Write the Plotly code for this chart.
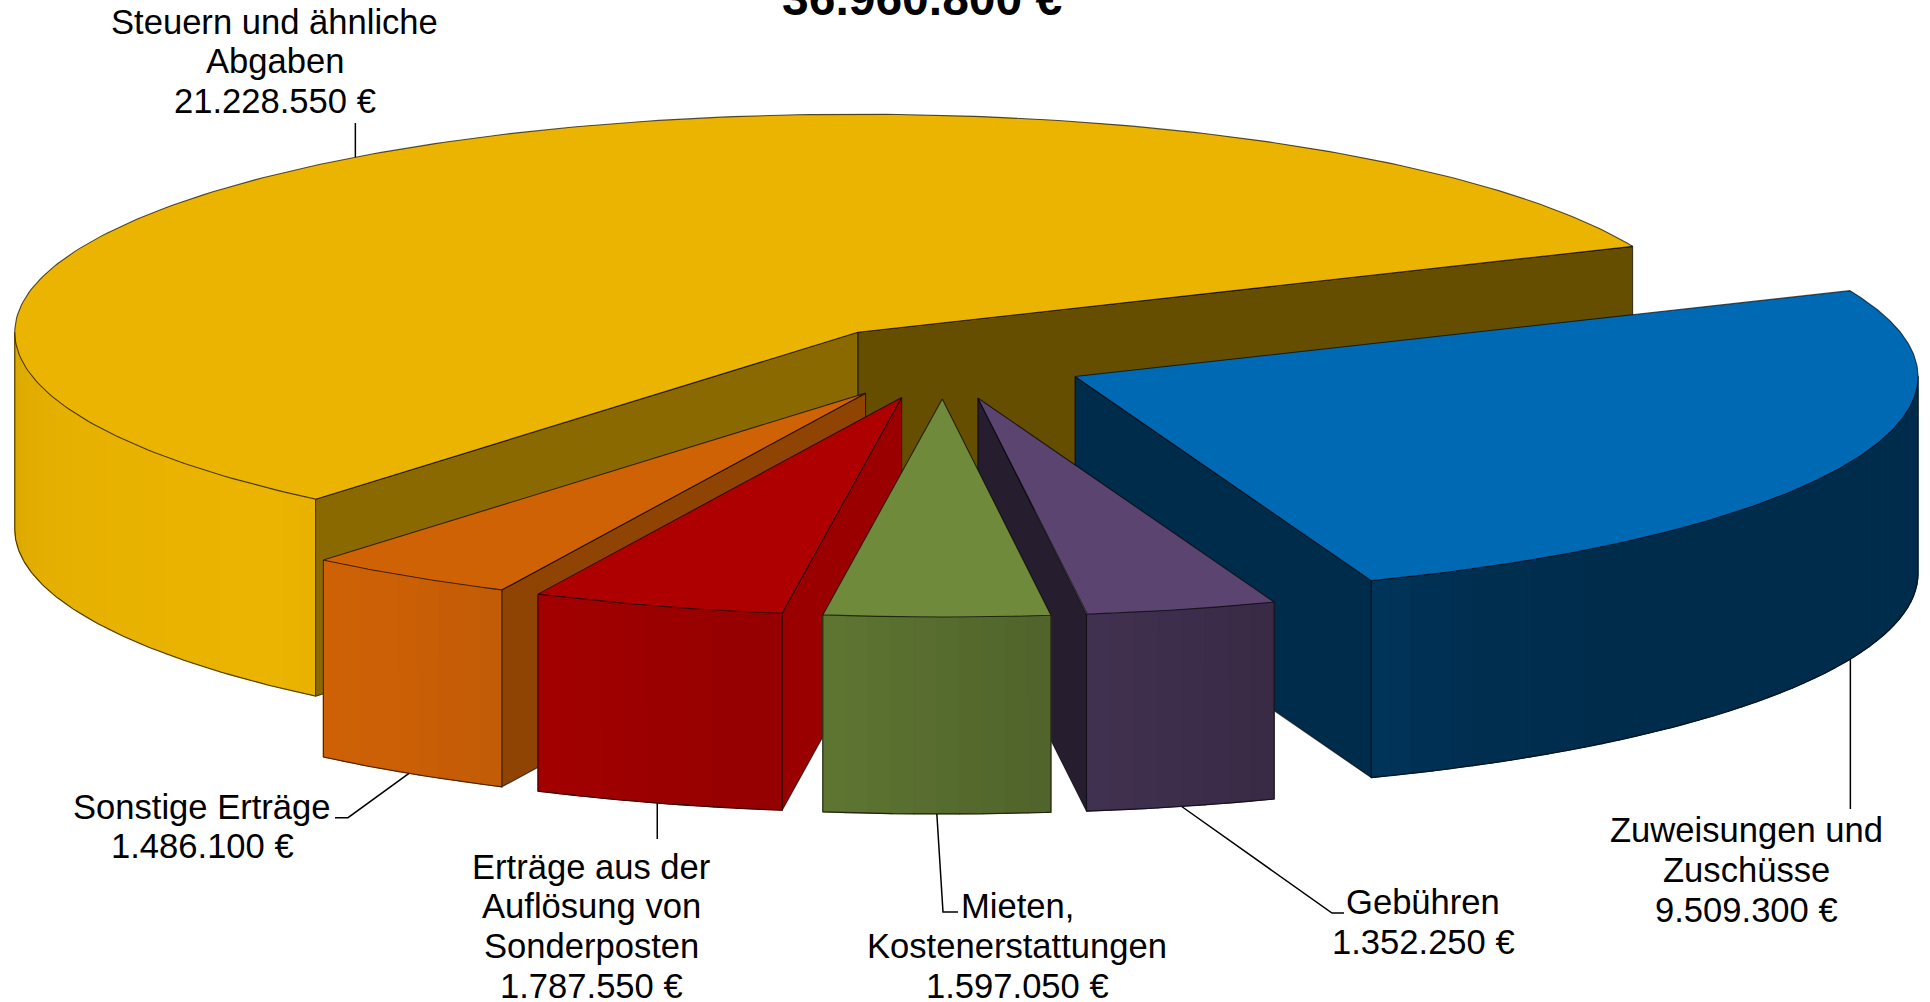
import numpy as np
import plotly.graph_objects as go

# ---- data ----
categories = [
    ["Steuern und ähnliche", "Abgaben"],
    ["Sonstige Erträge"],
    ["Erträge aus der", "Auflösung von", "Sonderposten"],
    ["Mieten,", "Kostenerstattungen"],
    ["Gebühren"],
    ["Zuweisungen und", "Zuschüsse"],
]
values = [21228550, 1486100, 1787550, 1597050, 1352250, 9509300]
colors = ["#EBB400", "#D06206", "#AE0000", "#6F8A3B", "#5B4570", "#0069B4"]

# ---- projection / layout constants ----
W, H = 1930, 1002
CX, CY = 943.2, 362.0      # pie centre on the page
RX, RY = 843.0, 218.0      # ellipse radii of the tilted disc
DEPTH = 197.0              # height of the disc
EXPLODE = 0.17             # radial explosion of each slice
START = 23.2               # angle where the first slice starts (ccw, degrees)
FONT = "Liberation Sans"
FS = 34.6
LH = 39.8

# rim brightness as a function of the surface direction
RIM_A = [180, 200, 225, 235, 245, 262, 277, 290.4, 290.8, 293, 299, 310, 400]
RIM_F = [.93, .98, 1.0, .98, .93, .85, .72, .62, .50, .48, .44, .42, .42]
FACE_A = [180, 293, 320, 334.6, 352, 360]
FACE_F = [.42, .43, .585, .69, .885, .9]

# label layout: (centre x, first line centre y), leader bend points
label_pos = [(274.5, 21.5), (202, 806.5), (591, 866.5), (1017, 906), (1423, 902), (1746, 830)]
leader_pts = [
    [(None, 123)],
    [(348, 817.7), (335, 817.7)],
    [(None, 839)],
    [(943, 912), (958, 912)],
    [(1332, 913), (1344, 913)],
    [(None, 809)],
]


def shade(hex_c, f):
    r, g, b = int(hex_c[1:3], 16), int(hex_c[3:5], 16), int(hex_c[5:7], 16)
    return f"rgb({r*f:.0f},{g*f:.0f},{b*f:.0f})"


def money(v):
    return f"{v:,}".replace(",", ".") + " €"


EDGE = "rgba(0,0,0,0.68)"
fig = go.Figure()


def poly(xs, ys, fill, line=None, width=1.1):
    fig.add_trace(go.Scatter(
        x=list(xs), y=list(ys), mode="lines", fill="toself", fillcolor=fill,
        line=dict(color=line or fill, width=width), hoverinfo="skip", showlegend=False))


def stroke(xs, ys, color=EDGE, width=1.1):
    fig.add_trace(go.Scatter(
        x=list(xs), y=list(ys), mode="lines", line=dict(color=color, width=width),
        hoverinfo="skip", showlegend=False))


total = sum(values)
sweeps = [v / total * 360 for v in values]
starts = START + np.concatenate([[0], np.cumsum(sweeps)[:-1]])

slices = []
for i, (t0, s) in enumerate(zip(starts, sweeps)):
    mid = np.radians(t0 + s / 2)
    ax = CX + EXPLODE * RX * np.cos(mid)
    ay = CY - EXPLODE * RY * np.sin(mid)
    slices.append(dict(i=i, t0=t0, t1=t0 + s, mid=mid, ax=ax, ay=ay))


def px(sl, deg):
    r = np.radians(deg)
    return sl["ax"] + RX * np.cos(r), sl["ay"] - RY * np.sin(r)


# paint back to front
for sl in sorted(slices, key=lambda d: -np.sin(d["mid"])):
    c = colors[sl["i"]]
    t0, t1 = sl["t0"], sl["t1"]

    # flat cut faces
    for deg, normal in ((t0, t0 - 90), (t1, t1 + 90)):
        if np.sin(np.radians(normal)) < -1e-6:
            x, y = px(sl, deg)
            fx = [sl["ax"], x, x, sl["ax"], sl["ax"]]
            fy = [sl["ay"], y, y + DEPTH, sl["ay"] + DEPTH, sl["ay"]]
            poly(fx, fy, shade(c, np.interp(normal % 360, FACE_A, FACE_F)), EDGE)

    # outer rim, banded
    spans = []
    for k in (0, 360):
        lo, hi = max(t0, 180 + k), min(t1, 360 + k)
        if hi > lo:
            spans.append((lo, hi))
    for lo, hi in spans:
        edges = np.linspace(lo, hi, max(2, int((hi - lo) / 1.5) + 1))
        for e0, e1 in zip(edges[:-1], edges[1:]):
            arc = np.linspace(e0, e1, 4)
            xs, ys = px(sl, arc)
            f = np.interp((e0 + e1) / 2, RIM_A, RIM_F)
            poly(np.r_[xs, xs[::-1], xs[0]], np.r_[ys, ys[::-1] + DEPTH, ys[0]], shade(c, f))
        arc = np.linspace(lo, hi, 120)
        xs, ys = px(sl, arc)
        stroke(np.r_[xs[0], xs, xs[-1]], np.r_[ys[0] + DEPTH, ys + DEPTH, ys[-1]])
        stroke([xs[0], xs[0]], [ys[0], ys[0] + DEPTH])

    # top surface
    arc = np.linspace(t0, t1, 240)
    xs, ys = px(sl, arc)
    poly(np.r_[sl["ax"], xs, sl["ax"]], np.r_[sl["ay"], ys, sl["ay"]], c, EDGE)

# leader lines start on the rim at each slice's bisector
for sl, bends in zip(slices, leader_pts):
    deg = np.degrees(sl["mid"])
    x, y = px(sl, deg)
    if np.sin(sl["mid"]) < 0:
        y += DEPTH
    lx, ly = [x], [y]
    for bx, by in bends:
        lx.append(x if bx is None else bx)
        ly.append(by)
    stroke(lx, ly, "#000000", 1.5)

# labels, one annotation per line for tight line spacing
annotations = []
for lines, v, (cx, cy) in zip(categories, values, label_pos):
    for j, t in enumerate(lines + [money(v)]):
        annotations.append(dict(
            x=cx, y=cy + j * LH, xref="x", yref="y", text=t, showarrow=False,
            xanchor="center", yanchor="middle", font=dict(family=FONT, size=FS, color="#000000")))

annotations.append(dict(
    x=921.5, y=27, xref="x", yref="y", text="<b>" + money(total) + "</b>", showarrow=False,
    xanchor="center", yanchor="bottom", font=dict(family=FONT, size=48, color="#000000")))

fig.update_layout(
    width=W, height=H, margin=dict(l=0, r=0, t=0, b=0, pad=0),
    paper_bgcolor="#FFFFFF", plot_bgcolor="#FFFFFF", showlegend=False,
    xaxis=dict(range=[0, W], visible=False, fixedrange=True),
    yaxis=dict(range=[H, 0], visible=False, fixedrange=True),
    annotations=annotations, font=dict(family=FONT),
)

fig.write_html("out.html", config=dict(displayModeBar=False),
               post_script="document.body.style.margin='0';document.body.style.overflow='hidden';")
